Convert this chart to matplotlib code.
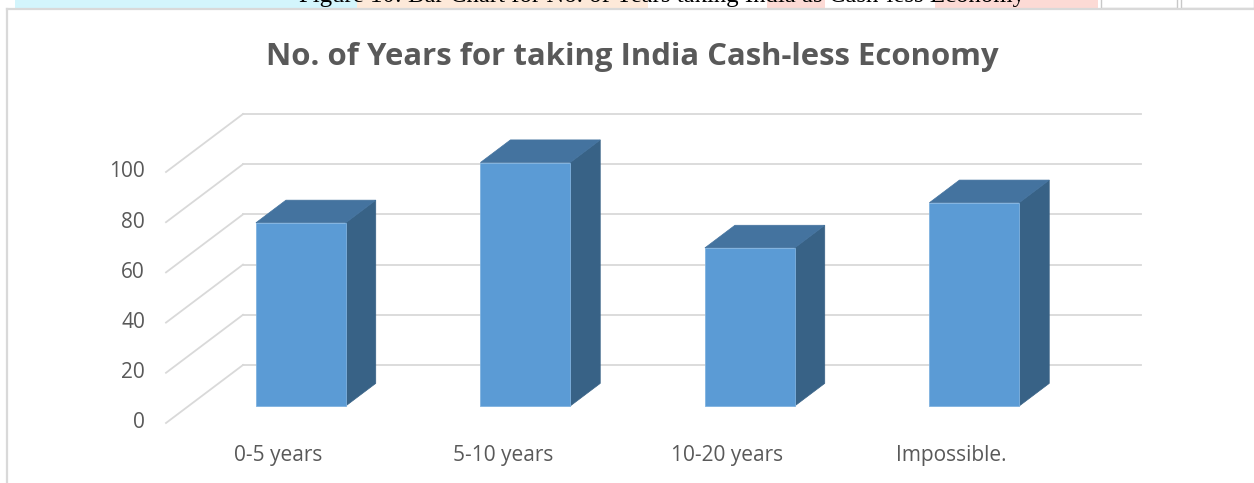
import matplotlib
matplotlib.use('Agg')
import matplotlib.pyplot as plt
from matplotlib.patches import Polygon, Rectangle
from matplotlib.lines import Line2D

# chart data
categories = ['0-5 years', '5-10 years', '10-20 years', 'Impossible.']
values = [73, 97, 63, 81]
yticks = [0, 20, 40, 60, 80, 100]
title = 'No. of Years for taking India Cash-less Economy'
caption = 'Figure 10: Bar Chart for No. of Years taking India as Cash-less Economy'

W, H = 1254, 483
fig = plt.figure(figsize=(W / 100, H / 100), dpi=100)
fig.patch.set_facecolor('white')

# pixel geometry of the Excel-style 3D plot
px_cat = 224.5      # pixels per category
px_val = 2.51       # pixels per value unit
x_left = 166        # front-left corner of the floor
y_zero = 423        # front edge of the floor
DX = 77 / px_cat    # full depth, in data units
DY = 58 / px_val
f0, f1 = 0.293, 0.683   # bar front / back depth fractions
half = 0.2

ax = fig.add_axes([0, 0, 1, 1])
ax.set_xlim(-0.5 - x_left / px_cat, -0.5 + (W - x_left) / px_cat)
ax.set_ylim((y_zero - H) / px_val, y_zero / px_val)
ax.axis('off')

grid_c = '#d9d9d9'
text_c = '#595959'
n = len(categories)

# back wall and side wall gridlines
for t in yticks:
    ax.plot([-0.5 + DX, n - 0.5 + DX], [t + DY, t + DY], color=grid_c, lw=1.3, zorder=1)
    ax.plot([-0.5, -0.5 + DX], [t, t + DY], color=grid_c, lw=1.3, zorder=1)
    ax.text(-0.5 - 21 / px_cat, t, str(t), ha='right', va='center',
            fontsize=15, color=text_c, family='Open Sans')

# 3D bars
for i, v in enumerate(values):
    xl, xr = i - half, i + half
    front = [(xl + f0 * DX, f0 * DY), (xr + f0 * DX, f0 * DY),
             (xr + f0 * DX, v + f0 * DY), (xl + f0 * DX, v + f0 * DY)]
    top = [(xl + f0 * DX, v + f0 * DY), (xr + f0 * DX, v + f0 * DY),
           (xr + f1 * DX, v + f1 * DY), (xl + f1 * DX, v + f1 * DY)]
    side = [(xr + f0 * DX, f0 * DY), (xr + f1 * DX, f1 * DY),
            (xr + f1 * DX, v + f1 * DY), (xr + f0 * DX, v + f0 * DY)]
    ax.add_patch(Polygon(side, closed=True, fc='#386286', ec='#386286', lw=0.5, zorder=3))
    ax.add_patch(Polygon(top, closed=True, fc='#44739f', ec='#44739f', lw=0.5, zorder=3))
    ax.add_patch(Polygon(front, closed=True, fc='#5b9bd5', ec='#7fb2e0', lw=0.6, zorder=4))
    ax.text(i, (y_zero - 455) / px_val, categories[i], ha='center', va='center',
            fontsize=15, color=text_c, family='Open Sans')

# title
fig.text(632 / W, 1 - 65 / H, title, ha='center', va='baseline',
         fontsize=22.4, fontweight='bold', color=text_c, family='Open Sans')

# chart frame
fig.add_artist(Line2D([7 / W, 7 / W], [0, 1 - 9 / H], color=grid_c, lw=1.6))
fig.add_artist(Line2D([7 / W, 1], [1 - 9 / H, 1 - 9 / H], color=grid_c, lw=1.6))

# cut-off caption strip above the chart
strips = [(15, 357, '#d3f5fc'), (357, 648, '#fde9d9'), (767, 825, '#fcdad5'), (935, 1098, '#fcdad5')]
for a, b, c in strips:
    fig.add_artist(Rectangle((a / W, 1 - 8 / H), (b - a) / W, 8 / H, fc=c, ec='none',
                             transform=fig.transFigure))
for a, b in [(1101, 1177), (1181, 1254)]:
    fig.add_artist(Rectangle((a / W, 1 - 8 / H), (b - a) / W, 10 / H, fc='white', ec='#c8c8c8',
                             lw=1, transform=fig.transFigure))
fig.text(662 / W, 1 - 2 / H, caption, ha='center', va='baseline',
         fontsize=17.8, color='black', family='Liberation Serif')

fig.savefig('out.png', dpi=100)
